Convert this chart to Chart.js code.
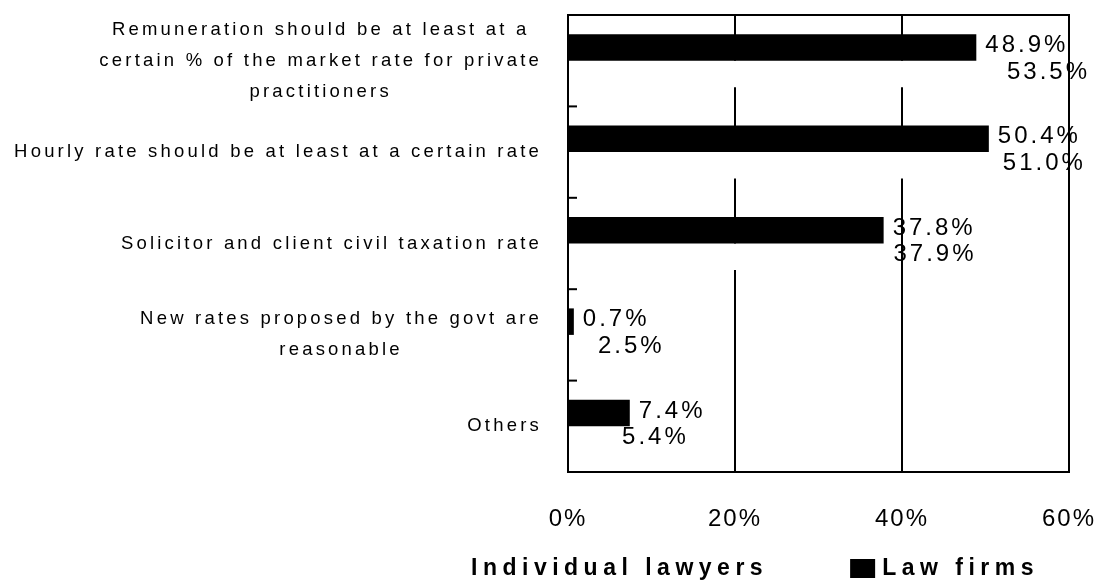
<!DOCTYPE html>
<html>
<head>
<meta charset="utf-8">
<script src="https://cdn.jsdelivr.net/npm/chart.js@4/dist/chart.umd.min.js"></script>
<style>
  html, body { margin: 0; padding: 0; background: #fff; }
  #wrap { width: 1094px; height: 583px; position: relative; }
</style>
</head>
<body>
<div id="wrap"><canvas id="feeChart"></canvas></div>
<script>
'use strict';

/* ── 데이터 ─────────────────────────────────── */
const categories = [
  ['Remuneration should be at least at a', 'certain % of the market rate for private', 'practitioners'],
  ['Hourly rate should be at least at a certain rate'],
  ['Solicitor and client civil taxation rate'],
  ['New rates proposed by the govt are', 'reasonable'],
  ['Others'],
];
const lawFirms          = [48.9, 50.4, 37.8, 0.7, 7.4];
const individualLawyers = [53.5, 51.0, 37.9, 2.5, 5.4];
const seriesNames       = ['Law firms', 'Individual lawyers'];
const xTickValues       = [0, 20, 40, 60];

const FONT = '"Liberation Sans", Arial, sans-serif';

/* ── 유틸 ─────────────────────────────────── */
function pct(v) { return v.toFixed(1) + '%'; }

/* ── 카테고리 라벨 (블록은 오른쪽 정렬, 줄은 가운데 정렬) ── */
const categoryLabels = {
  id: 'categoryLabels',
  afterDraw(chart) {
    const { ctx, scales: { y } } = chart;
    const right = 542, lineH = 31;
    ctx.save();
    ctx.font = '18.5px ' + FONT;
    ctx.letterSpacing = '3.2px';
    ctx.fillStyle = '#000';
    ctx.textAlign = 'center';
    ctx.textBaseline = 'middle';
    chart.data.labels.forEach((lines, i) => {
      const w = Math.max(...lines.map(l => ctx.measureText(l).width));
      const cx = right - w / 2;
      const cy = y.getPixelForValue(i);
      const top = cy - (lines.length - 1) * lineH / 2;
      lines.forEach((l, k) => ctx.fillText(l, cx, top + k * lineH));
    });
    ctx.restore();
  },
};

/* ── 테두리 + 안쪽 눈금 ─────────────────────── */
const frame = {
  id: 'frame',
  afterDatasetsDraw(chart) {
    const { ctx, chartArea: a, scales: { y } } = chart;
    ctx.save();
    ctx.strokeStyle = '#000';
    ctx.lineWidth = 2;
    ctx.strokeRect(a.left, a.top, a.right - a.left, a.bottom - a.top);
    for (let i = 0; i < chart.data.labels.length - 1; i++) {
      const py = y.getPixelForValue(i + 0.5);
      ctx.beginPath();
      ctx.moveTo(a.left, py);
      ctx.lineTo(a.left + 9, py);
      ctx.stroke();
    }
    ctx.restore();
  },
};

/* ── 값 라벨 ───────────────────────────────── */
const valueLabels = {
  id: 'valueLabels',
  afterDatasetsDraw(chart) {
    const { ctx, width } = chart;
    ctx.save();
    ctx.font = '24px ' + FONT;
    ctx.letterSpacing = '3px';
    ctx.fillStyle = '#000';
    ctx.textAlign = 'left';
    ctx.textBaseline = 'middle';
    chart.data.datasets.forEach((ds, di) => {
      chart.getDatasetMeta(di).data.forEach((bar, i) => {
        const txt = pct(ds.data[i]);
        const w = ctx.measureText(txt).width;
        const x = Math.min(bar.x + 9, width - 4 - w);
        ctx.fillText(txt, x, bar.y - 2);
      });
    });
    ctx.restore();
  },
};

/* ── 범례 (시리즈 역순) ─────────────────────── */
const legendBottom = {
  id: 'legendBottom',
  afterDraw(chart) {
    const { ctx } = chart;
    const baseY = 569;
    ctx.save();
    ctx.font = 'bold 23px ' + FONT;
    ctx.letterSpacing = '5.5px';
    ctx.textBaseline = 'middle';
    ctx.textAlign = 'left';
    let x = 471;
    [...chart.data.datasets].reverse().forEach(ds => {
      ctx.fillStyle = ds.backgroundColor;
      ctx.fillRect(x - 32, baseY - 10, 25, 19);
      ctx.fillStyle = '#000';
      ctx.fillText(ds.label, x, baseY);
      x += ctx.measureText(ds.label).width + 114;
    });
    ctx.restore();
  },
};

/* ── 차트 ───────────────────────────────────── */
function renderChart() {
  const canvas = document.getElementById('feeChart');
  Chart.defaults.font.family = FONT;
  Chart.defaults.color = '#000';

  new Chart(canvas.getContext('2d'), {
    type: 'bar',
    data: {
      labels: categories,
      datasets: [
        { label: seriesNames[0], data: lawFirms,          backgroundColor: '#000', borderWidth: 0 },
        { label: seriesNames[1], data: individualLawyers, backgroundColor: '#fff', borderWidth: 0 },
      ],
    },
    options: {
      indexAxis: 'y',
      responsive: true,
      maintainAspectRatio: false,
      animation: false,
      categoryPercentage: 0.58,
      barPercentage: 1.0,
      layout: { padding: { left: 0, right: 0, top: 15, bottom: 0 } },
      plugins: {
        legend: { display: false },
        tooltip: { enabled: false },
      },
      scales: {
        x: {
          min: xTickValues[0],
          max: xTickValues[xTickValues.length - 1],
          afterBuildTicks: s => { s.ticks = xTickValues.map(v => ({ value: v })); },
          ticks: {
            font: { size: 24 },
            padding: 33,
            callback: v => v + '%',
          },
          grid: { color: '#000', lineWidth: 2, drawTicks: false },
          border: { display: false },
          afterFit: s => { s.height = 111; s.paddingLeft = 0; s.paddingRight = 25; },
        },
        y: {
          ticks: { display: false },
          grid: { display: false },
          border: { display: false },
          afterFit: s => { s.width = 568; },
        },
      },
    },
    plugins: [
      { id: 'spacing', beforeDraw: c => { c.ctx.letterSpacing = '2px'; } },
      categoryLabels, frame, valueLabels, legendBottom,
    ],
  });
}

document.addEventListener('DOMContentLoaded', renderChart);
</script>
</body>
</html>
